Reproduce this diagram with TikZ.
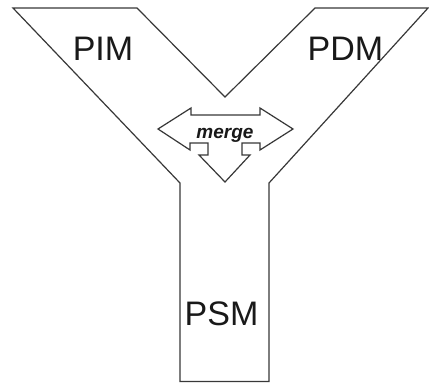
\documentclass[tikz,border=0pt]{standalone}
\usepackage{fontspec}
\setmainfont{Liberation Sans}
\begin{document}
\begin{tikzpicture}[x=1pt,y=-1pt,
  outline/.style={draw=black!78,line width=1.2pt,line join=miter},
  bigtext/.style={font=\fontsize{34}{40}\selectfont,text=black!90,anchor=base,inner sep=0pt},
  mergetext/.style={font=\fontsize{19}{22}\selectfont\bfseries\itshape,text=black!90,anchor=base,inner sep=0pt}]
\useasboundingbox[fill=white] (0,0) rectangle (429,383);
% Y outline
\draw[outline] (13,8) -- (137,8) -- (225,97) -- (315,8) -- (428,8)
  -- (269,183) -- (269,381.5) -- (180,381.5) -- (180,183) -- cycle;
% three-way arrow
\draw[outline] (158,129) -- (191,108) -- (191,115) -- (260,115) -- (260,108)
  -- (293,129) -- (260,150) -- (260,143) -- (242,143) -- (242,155) -- (250,155)
  -- (225,182) -- (199,155) -- (208,155) -- (208,143) -- (190,143) -- (190,150) -- cycle;
\node[bigtext] (pim) at (103,60) {PIM};
\node[bigtext] (pdm) at (345.5,60) {PDM};
\node[bigtext] (psm) at (221.5,325) {PSM};
\node[mergetext] (merge) at (225,138.3) {merge};
\end{tikzpicture}
\end{document}
